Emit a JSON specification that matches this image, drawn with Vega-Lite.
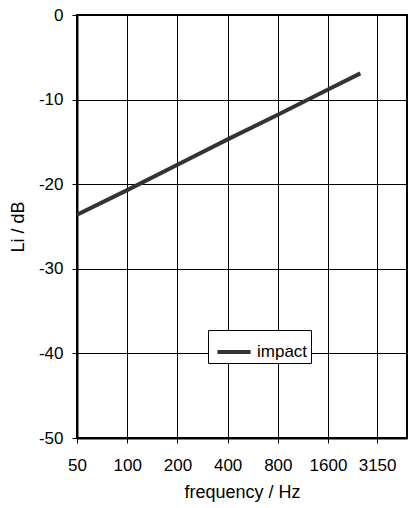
{
  "$schema": "https://vega.github.io/schema/vega-lite/v6.json",
  "width": 330,
  "height": 423,
  "autosize": {"type": "none"},
  "padding": {"left": 77, "top": 15, "right": 1, "bottom": 70},
  "background": "white",
  "config": {
    "view": {"stroke": "black", "strokeWidth": 2},
    "font": "Liberation Sans",
    "axis": {
      "labelFont": "Liberation Sans",
      "titleFont": "Liberation Sans",
      "labelFontSize": 17,
      "titleFontSize": 18,
      "titleFontWeight": "normal",
      "labelColor": "black",
      "titleColor": "black",
      "domainColor": "black",
      "domainWidth": 2,
      "tickColor": "black",
      "tickWidth": 1,
      "gridColor": "black",
      "gridWidth": 1,
      "gridOpacity": 1
    }
  },
  "data": {
    "values": [
      {"frequency": 50, "level": -23.6, "series": "impact"},
      {"frequency": 100, "level": -20.7, "series": "impact"},
      {"frequency": 200, "level": -17.7, "series": "impact"},
      {"frequency": 400, "level": -14.7, "series": "impact"},
      {"frequency": 800, "level": -11.8, "series": "impact"},
      {"frequency": 1600, "level": -8.8, "series": "impact"},
      {"frequency": 2500, "level": -6.9, "series": "impact"}
    ]
  },
  "mark": {"type": "line", "strokeWidth": 4, "clip": true},
  "encoding": {
    "x": {
      "field": "frequency",
      "type": "quantitative",
      "scale": {"type": "log", "domain": [50, 4760], "nice": false},
      "axis": {
        "title": "frequency / Hz",
        "values": [50, 100, 200, 400, 800, 1600, 3150],
        "labelExpr": "toString(datum.value)",
        "tickSize": 5,
        "labelPadding": 14,
        "titlePadding": 10,
        "labelFlush": false,
        "labelOverlap": false,
        "grid": true
      }
    },
    "y": {
      "field": "level",
      "type": "quantitative",
      "scale": {"domain": [-50, 0], "nice": false},
      "axis": {
        "title": "Li / dB",
        "values": [-50, -40, -30, -20, -10, 0],
        "labelExpr": "toString(datum.value)",
        "tickSize": 5,
        "labelPadding": 9,
        "titlePadding": 11,
        "grid": true
      }
    },
    "color": {
      "field": "series",
      "type": "nominal",
      "scale": {"range": ["#333333"]},
      "legend": {
        "title": null,
        "orient": "none",
        "legendX": 131,
        "legendY": 315,
        "fillColor": "white",
        "strokeColor": "black",
        "padding": 3,
        "symbolType": "stroke",
        "symbolStrokeWidth": 4,
        "symbolSize": 1100,
        "symbolOffset": 4,
        "labelFontSize": 17,
        "labelFont": "Liberation Sans",
        "labelColor": "black",
        "labelOffset": 4
      }
    }
  }
}
